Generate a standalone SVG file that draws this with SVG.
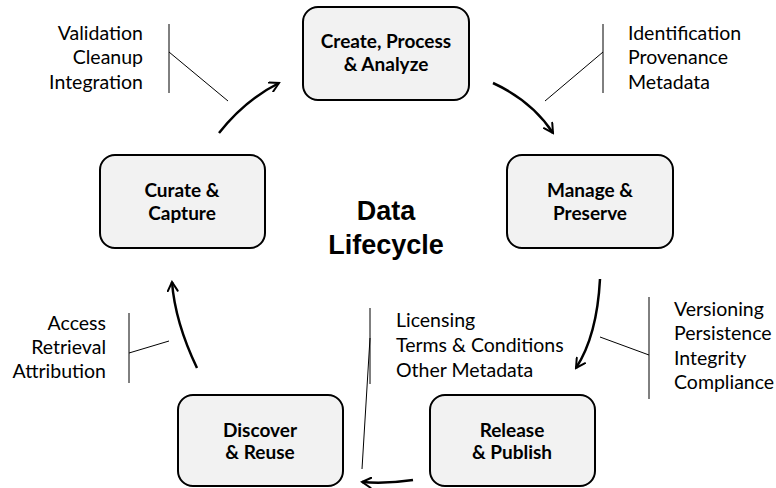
<svg xmlns="http://www.w3.org/2000/svg" width="776" height="488" viewBox="0 0 776 488">
<defs>
<marker id="arr" viewBox="0 0 12 12" refX="10" refY="6" markerWidth="12" markerHeight="12" markerUnits="userSpaceOnUse" orient="auto">
<path d="M1,1 L10,6 L1,11" fill="none" stroke="#000" stroke-width="2" stroke-linecap="round" stroke-linejoin="miter"/>
</marker>
<style>
.box{fill:#f2f2f2;stroke:#000;stroke-width:2}
.nt{font-family:Lato,"Open Sans","Liberation Sans",sans-serif;font-weight:bold;font-size:19px;fill:#000;text-anchor:middle}
.ann{font-family:Lato,"Open Sans","Liberation Sans",sans-serif;font-size:19.5px;fill:#000}
.r{text-anchor:end}
.thin{stroke:#000;stroke-width:1;fill:none}
.flow{stroke:#000;stroke-width:2.5;fill:none;marker-end:url(#arr)}
.title{font-family:"Liberation Sans",Arial,sans-serif;font-weight:bold;font-size:27px;fill:#000;text-anchor:middle}
</style>
</defs>
<rect width="776" height="488" fill="#fff"/>
<g id="title">
<text class="title" x="386" y="220">Data</text>
<text class="title" x="386" y="254">Lifecycle</text>
</g>
<g id="create">
<rect class="box" x="303" y="7" width="166" height="93" rx="15"/>
<text class="nt" x="386" y="48">Create, Process</text>
<text class="nt" x="386" y="71">&amp; Analyze</text>
</g>
<g id="manage">
<rect class="box" x="507" y="155" width="166" height="93" rx="15"/>
<text class="nt" x="590" y="197">Manage &amp;</text>
<text class="nt" x="590" y="220">Preserve</text>
</g>
<g id="release">
<rect class="box" x="430" y="395" width="165" height="91" rx="15"/>
<text class="nt" x="512" y="437">Release</text>
<text class="nt" x="512" y="459">&amp; Publish</text>
</g>
<g id="discover">
<rect class="box" x="178" y="395" width="165" height="91" rx="15"/>
<text class="nt" x="260" y="437">Discover</text>
<text class="nt" x="260" y="459">&amp; Reuse</text>
</g>
<g id="curate">
<rect class="box" x="100" y="155" width="165" height="93" rx="15"/>
<text class="nt" x="182" y="197">Curate &amp;</text>
<text class="nt" x="182" y="220">Capture</text>
</g>
<g id="ann-create">
<text class="ann r" x="143" y="40">Validation</text>
<text class="ann r" x="143" y="64">Cleanup</text>
<text class="ann r" x="143" y="89">Integration</text>
<path class="thin" d="M169,24 V93 M169,52 L228,101"/>
</g>
<g id="ann-manage">
<text class="ann" x="628" y="40">Identification</text>
<text class="ann" x="628" y="64">Provenance</text>
<text class="ann" x="628" y="89">Metadata</text>
<path class="thin" d="M603,24 V93 M603,52 L545,101"/>
</g>
<g id="ann-release">
<text class="ann" x="674" y="316">Versioning</text>
<text class="ann" x="674" y="340">Persistence</text>
<text class="ann" x="674" y="365">Integrity</text>
<text class="ann" x="674" y="389">Compliance</text>
<path class="thin" d="M649,297 V399 M649,355 L600,337"/>
</g>
<g id="ann-discover">
<text class="ann" x="396" y="327">Licensing</text>
<text class="ann" x="396" y="352">Terms &amp; Conditions</text>
<text class="ann" x="396" y="377">Other Metadata</text>
<path class="thin" d="M370,308 V384 M370,338 L362,469"/>
</g>
<g id="ann-curate">
<text class="ann r" x="106" y="330">Access</text>
<text class="ann r" x="106" y="354">Retrieval</text>
<text class="ann r" x="106" y="378">Attribution</text>
<path class="thin" d="M129,313 V383 M129,353 L169,341"/>
</g>
<g id="connectors">
<path class="flow" d="M219,133 Q245,100 279,83"/>
<path class="flow" d="M493,83 Q532,101 553,133"/>
<path class="flow" d="M600,279 Q597,336 576,368"/>
<path class="flow" d="M413,480 Q386,484 362,482"/>
<path class="flow" d="M197,368 Q175,322 172,282"/>
</g>
</svg>
